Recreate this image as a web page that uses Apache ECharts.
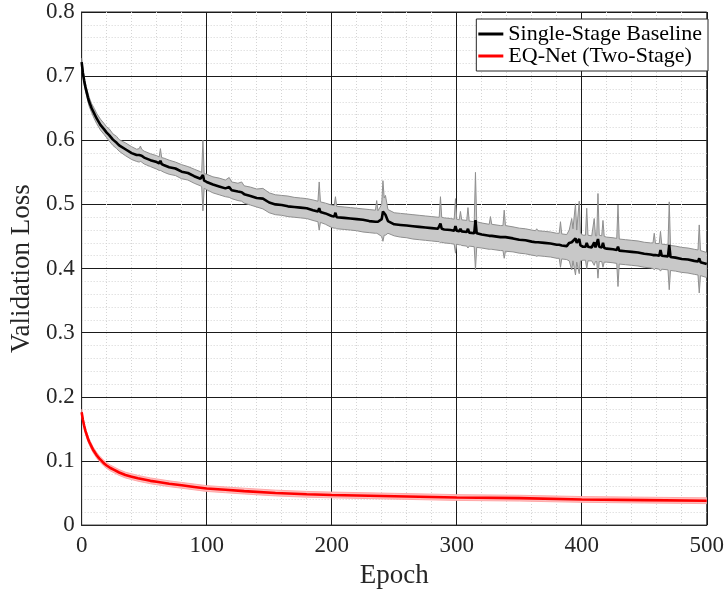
<!DOCTYPE html>
<html><head><meta charset="utf-8">
<script src="https://cdn.jsdelivr.net/npm/echarts@6/dist/echarts.min.js"></script>
<style>html,body{margin:0;padding:0;background:#fff}#c{width:727px;height:594px}</style>
</head><body><div id="c"></div>
<script>
// ---- data ----
const xTicks = [0, 100, 200, 300, 400, 500];
const yTicks = [0, 0.1, 0.2, 0.3, 0.4, 0.5, 0.6, 0.7, 0.8];

const baseEpochs = [
  0,1,2,3,4,5,6,8,10,12,
  15,18,20,22,25,28,30,35,40,44,
  46,47,48,50,55,60,62,63,64,66,
  70,75,80,85,90,95,96,97,98,100,
  105,110,115,118,120,125,128,130,135,140,
  145,150,155,160,165,170,175,180,185,189,
  190,191,195,200,202,203,204,210,215,220,
  225,230,235,236,237,240,241,242,243,245,
  250,255,260,265,270,275,280,285,286,287,
  288,290,295,298,299,300,302,303,304,308,
  309,310,314,315,316,320,326,327,328,335,
  337,338,339,345,350,355,360,363,364,365,
  370,375,380,382,383,384,388,390,392,393,
  395,396,398,399,401,403,404,405,408,410,
  411,412,413,414,416,417,418,420,425,428,
  429,430,435,440,445,450,455,457,458,459,
  462,463,464,469,470,471,475,480,485,490,
  493,494,495,500
];
const baseMean = [
  .722,.705,.693,.683,.675,.667,.660,.650,.642,.634,
  .624,.617,.612,.608,.601,.596,.592,.586,.580,.577,
  .577,.579,.576,.573,.569,.566,.564,.568,.563,.561,
  .558,.556,.551,.549,.544,.540,.539,.546,.537,.535,
  .531,.528,.525,.527,.522,.520,.519,.516,.513,.510,
  .509,.503,.500,.499,.497,.496,.495,.494,.491,.489,
  .494,.488,.486,.482,.481,.487,.480,.479,.478,.477,
  .476,.474,.473,.476,.473,.477,.489,.486,.484,.474,
  .469,.468,.467,.466,.465,.464,.463,.462,.462,.470,
  .462,.461,.460,.459,.466,.459,.458,.462,.458,.457,
  .462,.456,.455,.4755,.455,.453,.451,.453,.451,.449,
  .449,.450,.449,.447,.445,.444,.442,.441,.442,.441,
  .440,.439,.437,.437,.439,.436,.435,.440,.441,.444,
  .447,.440,.446,.436,.434,.434,.440,.434,.433,.441,
  .433,.433,.446,.434,.433,.440,.432,.431,.430,.429,
  .434,.428,.427,.426,.425,.423,.422,.421,.423,.421,
  .420,.429,.420,.419,.437,.418,.417,.415,.414,.412,
  .411,.416,.410,.407
];
const baseUpper = [
  .728,.711,.699,.689,.681,.674,.667,.657,.650,.642,
  .633,.626,.621,.618,.610,.606,.601,.596,.590,.586,
  .587,.591,.586,.583,.579,.576,.574,.587,.573,.572,
  .569,.566,.562,.559,.555,.551,.550,.600,.548,.547,
  .543,.541,.538,.542,.535,.533,.535,.529,.527,.524,
  .525,.518,.515,.514,.513,.511,.510,.509,.507,.505,
  .535,.504,.502,.499,.498,.512,.497,.496,.495,.494,
  .493,.492,.491,.506,.490,.500,.537,.510,.514,.492,
  .487,.486,.485,.484,.483,.482,.481,.480,.480,.512,
  .480,.479,.478,.477,.509,.477,.476,.489,.476,.475,
  .495,.474,.473,.550,.473,.471,.469,.481,.469,.467,
  .467,.491,.467,.465,.463,.462,.460,.459,.462,.459,
  .458,.457,.455,.455,.473,.454,.453,.460,.478,.462,
  .501,.460,.505,.455,.452,.452,.494,.452,.451,.478,
  .451,.451,.517,.452,.451,.475,.450,.449,.448,.447,
  .499,.446,.445,.444,.443,.441,.440,.440,.455,.439,
  .439,.458,.438,.437,.504,.436,.435,.433,.432,.430,
  .429,.468,.428,.425
];
const baseLower = [
  .716,.699,.687,.677,.669,.661,.653,.643,.634,.626,
  .616,.609,.604,.599,.592,.587,.583,.576,.570,.567,
  .566,.567,.566,.563,.559,.555,.553,.553,.552,.550,
  .547,.545,.540,.538,.533,.529,.528,.490,.525,.523,
  .518,.515,.512,.511,.509,.506,.505,.502,.499,.496,
  .493,.487,.484,.483,.481,.480,.479,.478,.475,.473,
  .460,.472,.469,.464,.463,.463,.462,.461,.460,.459,
  .457,.456,.455,.455,.454,.450,.4425,.452,.452,.455,
  .451,.449,.448,.446,.445,.444,.443,.442,.442,.440,
  .441,.440,.439,.438,.424,.438,.437,.437,.436,.435,
  .432,.435,.434,.398,.433,.432,.430,.430,.430,.428,
  .428,.416,.427,.426,.424,.423,.421,.420,.419,.420,
  .419,.418,.416,.416,.402,.415,.414,.412,.398,.412,
  .390,.410,.392,.412,.413,.413,.400,.412,.412,.405,
  .411,.411,.385,.411,.411,.402,.410,.410,.409,.408,
  .372,.407,.406,.405,.404,.402,.401,.400,.398,.400,
  .399,.396,.399,.398,.367,.397,.396,.394,.393,.391,
  .390,.362,.389,.386
];

const eqEpochs = [0,1,2,3,4,5,6,7,8,9,10,12,14,16,18,20,23,26,30,35,40,45,50,55,60,70,80,90,100,115,130,155,180,200,250,300,350,400,450,500];
const eqMean   = [.176,.164,.155,.147,.141,.135,.130,.126,.122,.118,.115,.109,.104,.100,.096,.093,.089,.086,.082,.078,.0755,.073,.071,.069,.0675,.0645,.062,.0595,.057,.055,.053,.050,.048,.047,.045,.043,.042,.040,.039,.038];
const eqUpper  = [.1805,.1685,.1595,.1515,.1455,.1395,.1345,.1305,.1265,.1225,.1195,.1135,.1085,.1045,.1005,.0975,.0935,.0905,.0865,.0825,.080,.0775,.0755,.0735,.072,.069,.0665,.064,.0615,.0595,.0575,.0545,.0525,.0515,.0495,.0475,.0465,.0445,.0435,.0425];
const eqLower  = [.1715,.1595,.1505,.1425,.1365,.1305,.1255,.1215,.1175,.1135,.1105,.1045,.0995,.0955,.0915,.0885,.0845,.0815,.0775,.0735,.071,.0685,.0665,.0645,.063,.060,.0575,.055,.0525,.0505,.0485,.0455,.0435,.0425,.0405,.0385,.0375,.0355,.0345,.0335];

const seriesNames = ['Single-Stage Baseline', 'EQ-Net (Two-Stage)'];

// ---- chart ----
const FONT = '"Liberation Serif", "Times New Roman", serif';
const INK = '#262626';
const pair = (xs, ys) => xs.map((x, i) => [x, ys[i]]);

function bandSeries(name, xs, up, lo, fill, edge) {
  return {
    name: name, type: 'custom', silent: true, z: 1,
    data: [[xs[0], lo[0]]],
    encode: {x: 0, y: 1},
    renderItem: function (params, api) {
      const upPts = xs.map((x, i) => api.coord([x, up[i]]));
      const loPts = xs.map((x, i) => api.coord([x, lo[i]]));
      const poly = upPts.concat(loPts.slice().reverse());
      return {
        type: 'group',
        children: [
          {type: 'polygon', shape: {points: poly}, style: {fill: fill, stroke: null}},
          {type: 'polyline', shape: {points: upPts}, style: {fill: null, stroke: edge, lineWidth: 1}},
          {type: 'polyline', shape: {points: loPts}, style: {fill: null, stroke: edge, lineWidth: 1}}
        ]
      };
    }
  };
}

const chart = echarts.init(document.getElementById('c'), null, {renderer: 'canvas'});
chart.setOption({
  animation: false,
  backgroundColor: '#fff',
  grid: {left: 79, right: 18, top: 12, bottom: 65, show: true, borderColor: INK, borderWidth: 1, backgroundColor: 'transparent'},
  xAxis: {
    type: 'value', min: xTicks[0], max: xTicks[xTicks.length - 1], interval: 100,
    name: 'Epoch', nameLocation: 'middle', nameGap: 32,
    nameTextStyle: {fontFamily: FONT, fontSize: 27, color: INK},
    axisLine: {show: true, lineStyle: {color: INK, width: 1}},
    axisTick: {show: false},
    axisLabel: {fontFamily: FONT, fontSize: 23, color: INK, margin: 9},
    splitLine: {show: true, lineStyle: {color: '#1a1a1a', width: 1}},
    minorTick: {show: false, splitNumber: 5},
    minorSplitLine: {show: true, lineStyle: {color: '#d4d4d4', width: 1, type: [1, 2]}}
  },
  yAxis: {
    type: 'value', min: yTicks[0], max: yTicks[yTicks.length - 1], interval: 0.1,
    name: 'Validation Loss', nameLocation: 'middle', nameGap: 41,
    nameTextStyle: {fontFamily: FONT, fontSize: 27, color: INK},
    axisLine: {show: true, lineStyle: {color: INK, width: 1}},
    axisTick: {show: false},
    axisLabel: {fontFamily: FONT, fontSize: 23, color: INK, margin: 7,
      formatter: v => (Math.round(v * 10) / 10).toString()},
    splitLine: {show: true, lineStyle: {color: '#1a1a1a', width: 1}},
    minorTick: {show: false, splitNumber: 5},
    minorSplitLine: {show: true, lineStyle: {color: '#d4d4d4', width: 1, type: [1, 2]}}
  },
  legend: {
    data: seriesNames, orient: 'vertical', right: 19, top: 19,
    backgroundColor: '#fff', borderColor: INK, borderWidth: 1,
    padding: [4, 6, 4, 2], itemGap: 0, itemWidth: 25, itemHeight: 3, icon: 'rect',
    textStyle: {fontFamily: FONT, fontSize: 22, color: '#000', lineHeight: 22}
  },
  series: [
    bandSeries('baseBand', baseEpochs, baseUpper, baseLower, '#c8c8c8', '#8f8f8f'),
    {name: seriesNames[0], type: 'line', symbol: 'none', color: '#000', z: 5,
     data: pair(baseEpochs, baseMean), lineStyle: {color: '#000', width: 2.6}},
    bandSeries('eqBand', eqEpochs, eqUpper, eqLower, '#ffbcbc', '#ffa8a8'),
    {name: seriesNames[1], type: 'line', symbol: 'none', color: '#ff0000', z: 5,
     data: pair(eqEpochs, eqMean), lineStyle: {color: '#ff0000', width: 2.6}}
  ]
});
</script>
</body></html>
